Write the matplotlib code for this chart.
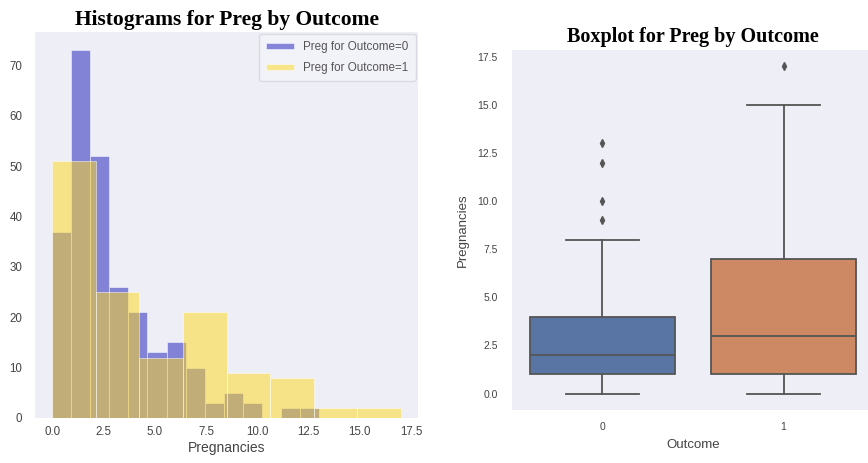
import colorsys
import numpy as np
import matplotlib
matplotlib.use("Agg")
import matplotlib.pyplot as plt
import matplotlib.colors as mcolors

# ---------------- data ----------------
# Histogram counts (Outcome=0: 14 bins over 0..13, Outcome=1: 8 bins over 0..17)
preg_range_0 = (0, 13)
counts_0 = [37, 73, 52, 26, 21, 13, 15, 10, 3, 5, 3, 0, 2, 2]
preg_range_1 = (0, 17)
counts_1 = [51, 25, 12, 21, 9, 8, 2, 2]
hist_labels = ["Preg for Outcome=0", "Preg for Outcome=1"]

# Boxplot statistics
box_groups = ["0", "1"]
box_q1 = [1, 1]
box_med = [2, 3]
box_q3 = [4, 7]
box_whislo = [0, 0]
box_whishi = [8, 15]
box_fliers = [[9, 10, 12, 13], [17]]

hist_yticks = [0, 10, 20, 30, 40, 50, 60, 70]
hist_xticks = [0.0, 2.5, 5.0, 7.5, 10.0, 12.5, 15.0, 17.5]
box_yticks = [0.0, 2.5, 5.0, 7.5, 10.0, 12.5, 15.0, 17.5]

# ---------------- style ----------------
BG = "#EEEEF6"
TXT = "#444444"
plt.rcParams["font.family"] = ["Liberation Sans", "DejaVu Sans"]
plt.rcParams["text.color"] = TXT


def desat(c, s=0.75):
    r, g, b = mcolors.to_rgb(c)
    h, l, sat = colorsys.rgb_to_hls(r, g, b)
    return colorsys.hls_to_rgb(h, l, sat * s)


fig = plt.figure(figsize=(8.68, 4.63), dpi=100)

# ---------------- histogram ----------------
ax1 = fig.add_axes([0.0403, 0.0972, 0.4413, 0.8343])
ax1.set_facecolor(BG)
for sp in ax1.spines.values():
    sp.set_visible(False)

edges0 = np.linspace(preg_range_0[0], preg_range_0[1], len(counts_0) + 1)
edges1 = np.linspace(preg_range_1[0], preg_range_1[1], len(counts_1) + 1)
cent0 = (edges0[:-1] + edges0[1:]) / 2
cent1 = (edges1[:-1] + edges1[1:]) / 2
ax1.hist(cent0, bins=edges0, weights=counts_0, color="#1818B8", alpha=0.5,
         edgecolor="white", linewidth=0.7, label=hist_labels[0])
ax1.hist(cent1, bins=edges1, weights=counts_1, color="#FFD81A", alpha=0.5,
         edgecolor="white", linewidth=0.7, label=hist_labels[1])
ax1.set_xlim(-0.85, 17.85)
ax1.set_ylim(0, 76.65)
ax1.set_yticks(hist_yticks)
ax1.set_xticks(hist_xticks)
ax1.set_xticklabels([f"{v:.1f}" for v in hist_xticks])
ax1.tick_params(axis="both", length=0, labelsize=8.3, labelcolor=TXT)
ax1.tick_params(axis="y", pad=9)
ax1.tick_params(axis="x", pad=6)
ax1.set_xlabel("Pregnancies", fontsize=10, color=TXT, labelpad=2)
leg = ax1.legend(loc="upper right", fontsize=8.4, frameon=True,
                 facecolor="#F2F2F9", edgecolor="#DADAE2", framealpha=1.0,
                 borderaxespad=0.2, handlelength=2.4, handleheight=0.45,
                 handletextpad=0.8, labelspacing=0.75, borderpad=0.6)
for t in leg.get_texts():
    t.set_color("#555555")
ax1.set_title("Histograms for Preg by Outcome", fontsize=15.5,
              fontweight="bold", family="Liberation Serif", color="black",
              pad=5)

# ---------------- boxplot ----------------
ax2 = fig.add_axes([0.5895, 0.1145, 0.4177, 0.7775])
ax2.set_facecolor(BG)
for sp in ax2.spines.values():
    sp.set_visible(False)

stats = []
for i in range(len(box_groups)):
    stats.append(dict(med=box_med[i], q1=box_q1[i], q3=box_q3[i],
                      whislo=box_whislo[i], whishi=box_whishi[i],
                      fliers=box_fliers[i], label=box_groups[i]))
line_c = "#555555"
bp = ax2.bxp(stats, positions=range(len(box_groups)), widths=0.8,
             patch_artist=True,
             boxprops=dict(edgecolor=line_c, linewidth=1.3),
             medianprops=dict(color=line_c, linewidth=1.3),
             whiskerprops=dict(color=line_c, linewidth=1.3),
             capprops=dict(color=line_c, linewidth=1.3),
             flierprops=dict(marker="d", markerfacecolor=line_c,
                             markeredgecolor=line_c, markersize=4))
box_colors = [desat("#4C72B0"), desat("#DD8452")]
for patch, c in zip(bp["boxes"], box_colors):
    patch.set_facecolor(c)
ax2.set_xlim(-0.5, 1.5)
ax2.set_ylim(-0.85, 17.85)
ax2.set_yticks(box_yticks)
ax2.set_yticklabels([f"{v:.1f}" for v in box_yticks])
ax2.tick_params(axis="both", length=0, labelsize=7.5, labelcolor=TXT)
ax2.tick_params(axis="y", pad=10)
ax2.tick_params(axis="x", pad=9)
ax2.set_xlabel("Outcome", fontsize=9.5, color=TXT, labelpad=5)
ax2.set_ylabel("Pregnancies", fontsize=9.5, color=TXT, labelpad=6)
ax2.set_title("Boxplot for Preg by Outcome", fontsize=14.5,
              fontweight="bold", family="Liberation Serif", color="black",
              pad=6)

fig.savefig("out.png", dpi=100, facecolor="white")
